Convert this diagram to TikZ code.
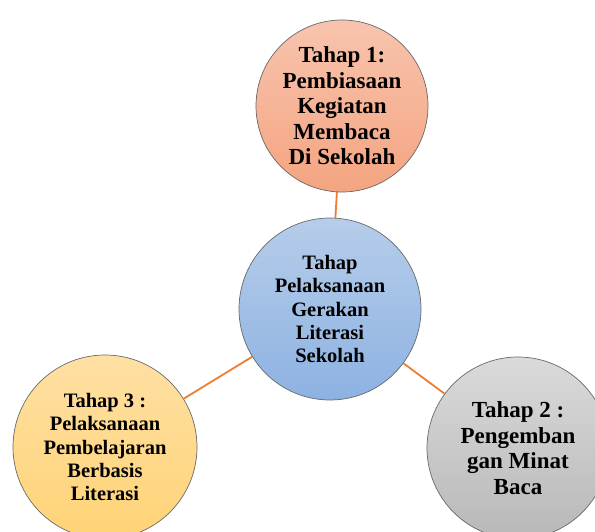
\documentclass[tikz,border=0pt]{standalone}
\usepackage{fontspec}
\setmainfont{Liberation Serif}
\usepackage{xcolor}
\usepackage{tikz}
\definecolor{peachTop}{RGB}{248,196,174}
\definecolor{peachBot}{RGB}{244,164,128}
\definecolor{blueTop}{RGB}{182,205,234}
\definecolor{blueBot}{RGB}{141,178,226}
\definecolor{sandTop}{RGB}{255,224,164}
\definecolor{sandBot}{RGB}{255,211,118}
\definecolor{greyTop}{RGB}{218,218,218}
\definecolor{greyBot}{RGB}{184,184,184}
\definecolor{rimGrey}{RGB}{105,105,105}
\definecolor{linkOrange}{RGB}{237,125,49}
\tikzset{
stage/.style = {circle, draw=rimGrey, line width=0.7pt, minimum size=#1,
                inner sep=0pt, align=center},
stage/.default = 182pt % diameter of the circle
}
\tikzset{
big/.style = {font=\bfseries\fontsize{23}{25.5}\selectfont},
small/.style = {font=\bfseries\fontsize{20.5}{23.3}\selectfont}
}
\tikzset{
link/.style = {draw=linkOrange, line width=1.8pt}
}

\begin{document}
\begin{tikzpicture}[x=1pt, y=-1pt]
    \useasboundingbox (0,0) rectangle (595,532);
    \clip (0,0) rectangle (595,532);
    \node[stage=172pt, big, top color=peachTop, bottom color=peachBot] (tahapA) at (342,106)
        {Tahap 1:\\ Pembiasaan\\ Kegiatan\\ Membaca\\ Di Sekolah};
    \node[stage, small, top color=blueTop, bottom color=blueBot] (pusat) at (330,309)
        {Tahap\\ Pelaksanaan\\ Gerakan\\ Literasi\\ Sekolah};
    \node[stage=184pt, small, top color=sandTop, bottom color=sandBot] (tahapC) at (105,447)
        {Tahap 3 :\\ Pelaksanaan\\ Pembelajaran\\ Berbasis\\ Literasi};
    \node[stage, big, top color=greyTop, bottom color=greyBot] (tahapB) at (518,448)
        {Tahap 2 :\\ Pengemban\\ gan Minat\\ Baca};

    \draw[link] (pusat) -- (tahapA);
    \draw[link] (pusat) -- (tahapC);
    \draw[link] (pusat) -- (tahapB);
\end{tikzpicture}
\end{document}
